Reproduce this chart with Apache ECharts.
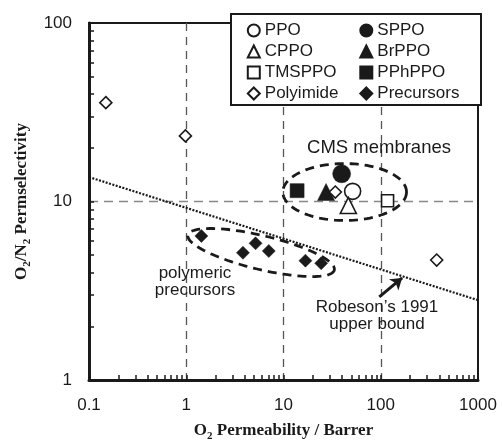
<!DOCTYPE html>
<html><head><meta charset="utf-8">
<script src="https://cdn.jsdelivr.net/npm/echarts@6/dist/echarts.min.js"></script>
<style>html,body{margin:0;padding:0;background:#fff}#c{width:502px;height:441px}</style>
</head><body><div id="c"></div>
<script>
// ---- data ----
const xTickLabels = [0.1, 1, 10, 100, 1000];
const yTickLabels = [1, 10, 100];
const PPO = [[51.4, 11.4]];
const SPPO = [[39.6, 14.3]];
const CPPO = [[46.4, 9.5]];
const BrPPO = [[27.4, 11.3]];
const TMSPPO = [[117.5, 10.1]];
const PPhPPO = [[13.8, 11.5]];
const Polyimide = [[0.149, 35.8], [0.98, 23.3], [34.1, 11.3], [376, 4.7]];
const Precursors = [[1.43, 6.41], [3.83, 5.16], [5.16, 5.83], [7.06, 5.28], [16.8, 4.66], [24.4, 4.51]];
const robeson1991 = [[0.1, 13.7], [1000, 2.8]];
const robesonArrow = [[96.6, 2.92], [166, 3.73]];
// ellipse: major-axis end 1 (x,y), end 2 (x,y), minor/major ratio
const cmsEllipse = [9.85, 11.3, 184, 11.3, 0.46];
const precursorEllipse = [1.04, 6.49, 33.3, 4.13, 0.225];

function minorTicks(majors) {
  const out = [];
  for (let i = 0; i < majors.length - 1; i++) {
    for (let k = 1; k < 10; k++) out.push(+(majors[i] * k).toPrecision(6));
  }
  out.push(majors[majors.length - 1]);
  return out;
}

const SANS = '"Liberation Sans", Arial, sans-serif';
const SERIF = '"Liberation Serif", "Times New Roman", serif';
const INK = '#1a1a1a';

function hollow(name, symbol, size, data) {
  return { name, type: 'scatter', data, symbol, symbolSize: size, z: 6,
    itemStyle: { color: '#fff', borderColor: INK, borderWidth: 1.6, opacity: 1 } };
}
function filled(name, symbol, size, data) {
  return { name, type: 'scatter', data, symbol, symbolSize: size, z: 6,
    itemStyle: { color: INK, borderColor: INK, borderWidth: 0.5, opacity: 1 } };
}

const nameRich = {
  b: { fontFamily: SERIF, fontWeight: 'bold', fontSize: 17, color: INK, lineHeight: 22 },
  s: { fontFamily: SERIF, fontWeight: 'bold', fontSize: 11, color: INK, lineHeight: 11, verticalAlign: 'bottom' }
};

const legendCommon = {
  orient: 'vertical', top: 22, padding: 0, itemWidth: 12, itemHeight: 12, itemGap: 4,
  selectedMode: false, z: 110,
  textStyle: { fontFamily: SANS, fontSize: 17, color: INK, lineHeight: 17 }
};

const chart = echarts.init(document.getElementById('c'));
chart.setOption({
  animation: false,
  backgroundColor: '#fff',
  grid: { left: 89, right: 24, top: 23, bottom: 61, show: true, borderColor: INK, borderWidth: 2,
    backgroundColor: 'transparent', outerBoundsMode: 'none', containLabel: false },
  xAxis: [{
    type: 'log', min: 0.1, max: 1000, logBase: 10, position: 'bottom',
    name: '{b|O}{s|2}{b| Permeability / Barrer}', nameLocation: 'middle', nameGap: 40,
    nameTextStyle: { rich: nameRich },
    axisLine: { onZero: false, lineStyle: { color: INK, width: 3 } },
    axisTick: { show: false },
    axisLabel: { customValues: xTickLabels, margin: 17, fontFamily: SANS, fontSize: 17, color: INK,
      formatter: v => String(+v.toPrecision(6)) },
    splitLine: { show: true, showMinLine: false, showMaxLine: false, lineStyle: { type: [8, 6], color: '#555', width: 1.3 } }
  }, {
    type: 'log', min: 0.1, max: 1000, logBase: 10, position: 'bottom', offset: 0,
    axisLine: { show: false, onZero: false },
    axisTick: { show: true, inside: true, length: 5, customValues: minorTicks(xTickLabels), lineStyle: { color: INK, width: 1.5 } },
    axisLabel: { show: false },
    splitLine: { show: false }
  }],
  yAxis: [{
    type: 'log', min: 1, max: 100, logBase: 10, position: 'left',
    name: '{b|O}{s|2}{b|/N}{s|2}{b| Permselectivity}', nameLocation: 'middle', nameGap: 48, nameRotate: 90,
    nameTextStyle: { rich: nameRich },
    axisLine: { onZero: false, lineStyle: { color: INK, width: 3 } },
    axisTick: { show: false },
    axisLabel: { customValues: yTickLabels, margin: 17, fontFamily: SANS, fontSize: 17, color: INK,
      padding: [4, 0, 0, 0], formatter: v => String(+v.toPrecision(6)) },
    splitLine: { show: true, showMinLine: false, showMaxLine: false, lineStyle: { type: [9, 6], color: '#888', width: 1.3 } }
  }, {
    type: 'log', min: 1, max: 100, logBase: 10, position: 'left', offset: 0,
    axisLine: { show: false, onZero: false },
    axisTick: { show: true, inside: true, length: 5, customValues: minorTicks(yTickLabels), lineStyle: { color: INK, width: 1.5 } },
    axisLabel: { show: false },
    splitLine: { show: false }
  }],
  legend: [
    Object.assign({ left: 246.8, data: ['PPO', 'CPPO', 'TMSPPO', 'Polyimide'] }, legendCommon),
    Object.assign({ left: 359.3, data: ['SPPO', 'BrPPO', 'PPhPPO', 'Precursors'] }, legendCommon)
  ],
  graphic: [
    { type: 'rect', z: 100, shape: { x: 231, y: 14, width: 250, height: 91 },
      style: { fill: '#fff', stroke: INK, lineWidth: 2 } },
    { type: 'text', z: 100, x: 379, y: 148,
      style: { text: 'CMS membranes', fontFamily: SANS, fontSize: 18.5, fill: INK, align: 'center', verticalAlign: 'middle' } },
    { type: 'text', z: 100, x: 195, y: 282,
      style: { text: 'polymeric\nprecursors', fontFamily: SANS, fontSize: 17, lineHeight: 16.5, fill: INK, align: 'center', verticalAlign: 'middle' } },
    { type: 'text', z: 100, x: 377, y: 316,
      style: { text: 'Robeson\u2019s 1991\nupper bound', fontFamily: SANS, fontSize: 17, lineHeight: 16.5, fill: INK, align: 'center', verticalAlign: 'middle' } }
  ],
  series: [
    { type: 'custom', silent: true, z: 3, data: [cmsEllipse, precursorEllipse], encode: { x: 0, y: 1 },
      renderItem: function (params, api) {
        const p1 = api.coord([api.value(0), api.value(1)]);
        const p2 = api.coord([api.value(2), api.value(3)]);
        const cx = (p1[0] + p2[0]) / 2, cy = (p1[1] + p2[1]) / 2;
        const a = Math.hypot(p2[0] - p1[0], p2[1] - p1[1]) / 2;
        const b = a * api.value(4);
        const th = Math.atan2(p2[1] - p1[1], p2[0] - p1[0]);
        const pts = [];
        for (let i = 0; i < 120; i++) {
          const t = i / 120 * 2 * Math.PI;
          const ex = a * Math.cos(t), ey = b * Math.sin(t);
          pts.push([cx + ex * Math.cos(th) - ey * Math.sin(th), cy + ex * Math.sin(th) + ey * Math.cos(th)]);
        }
        return { type: 'polygon', shape: { points: pts },
          style: { fill: 'none', stroke: INK, lineWidth: 2.8, lineDash: [9, 6] } };
      } },
    { type: 'line', data: robeson1991, showSymbol: false, symbol: 'none', silent: true, z: 4,
      lineStyle: { color: INK, width: 2.2, type: [2, 1.5] },
      markLine: { silent: true, symbol: ['none', 'arrow'], symbolSize: 11, label: { show: false },
        lineStyle: { type: 'solid', width: 3, color: INK },
        data: [[{ coord: robesonArrow[0] }, { coord: robesonArrow[1] }]] } },
    hollow('PPO', 'circle', 16, PPO),
    filled('SPPO', 'circle', 18, SPPO),
    hollow('CPPO', 'triangle', 16, CPPO),
    filled('BrPPO', 'triangle', 17, BrPPO),
    hollow('TMSPPO', 'rect', 12, TMSPPO),
    filled('PPhPPO', 'rect', 14, PPhPPO),
    hollow('Polyimide', 'diamond', 12, Polyimide),
    filled('Precursors', 'diamond', 13, Precursors)
  ]
});
</script>
</body></html>
